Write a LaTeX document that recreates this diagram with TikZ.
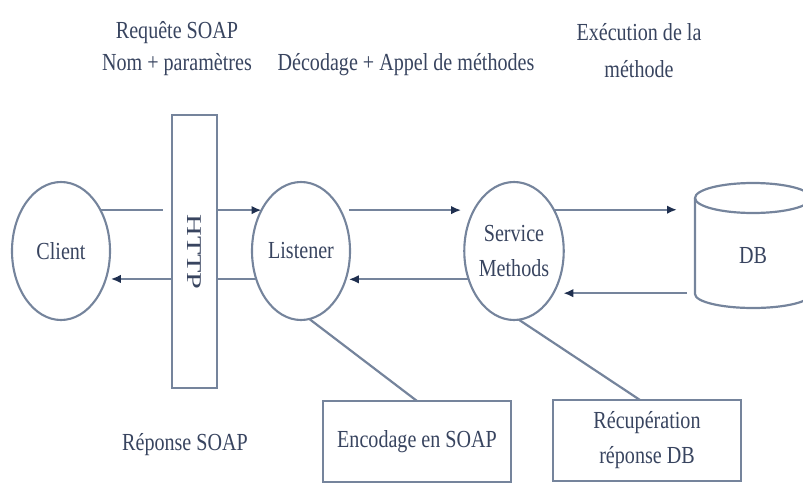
\documentclass[tikz,border=0pt]{standalone}
\usepackage{fontspec}
\setmainfont{Liberation Serif}[FakeStretch=0.82]
\usetikzlibrary{arrows.meta,shapes.geometric}
\definecolor{edgecol}{HTML}{75849C}
\definecolor{headcol}{HTML}{1F2F4F}
\definecolor{txtcol}{HTML}{38445F}

\begin{document}
\begin{tikzpicture}[x=1pt,y=-1pt,
  every node/.style={font=\fontsize{24.5}{35}\selectfont, text=txtcol},
  proc/.style={draw=edgecol, line width=2.1pt, ellipse, minimum width=98pt,
    minimum height=138pt, inner sep=0pt, outer sep=0pt},
  box/.style={draw=edgecol, line width=2.1pt, rectangle, inner sep=0pt, outer sep=0pt},
  link/.style={draw=edgecol, line width=2.2pt},
  flow/.style={link, -{Latex[length=10pt,width=8.5pt,color=headcol]}},
  note/.style={align=center, inner sep=0pt}]

\useasboundingbox (0,0) rectangle (803,484);
\clip (0,0) rectangle (803,484);

% processes
\node[proc] (client) at (61,251) {Client};
\node[box, minimum width=45pt, minimum height=273pt] (http) at (194.5,251.5) {};
\node[rotate=-90, inner sep=0pt, font=\fontsize{21}{24}\selectfont] (httplabel) at (194,252)
  {\scalebox{1.75}[1]{HTTP}};
\node[proc] (listener) at (301,251) {Listener};
\node[proc, align=center] (svc) at (514,251) {\raisebox{-4pt}{Service}\\\raisebox{-4pt}{Methods}};

% database cylinder
\node[inner sep=0pt, outer sep=0pt, minimum width=116pt, minimum height=96pt] (db) at (753,246) {};
\node (dblabel) at ([yshift=-10pt]db.center) {DB};
\draw[link] (db.north west) -- (db.south west)
  arc[start angle=180, end angle=0, x radius=58, y radius=14] -- (db.north east);
\draw[link] (db.north) ellipse [x radius=58, y radius=15];

% activity boxes
\node[box, minimum width=188pt, minimum height=81pt] (enc) at (417,441.5) {Encodage en SOAP};
\node[box, minimum width=188pt, minimum height=81pt, align=center] (recup) at (647,440.5)
  {Récupération\\réponse DB};

% captions
\node[note, font=\fontsize{24.5}{32}\selectfont] (req) at (177,49) {Requête SOAP\\Nom + paramètres};
\node[note] (dec) at (406,65) {Décodage + Appel de méthodes};
\node[note, font=\fontsize{24.5}{37}\selectfont] (exec) at (639,51) {Exécution de la\\méthode};
\node[note] (rep) at (185,445) {Réponse SOAP};

% request path
\draw[link] (client.46) -- ([xshift=-9pt]http.west |- client.46);
\draw[flow] (http.east |- listener.134) -- (listener.134);
\draw[flow, shorten <=9pt, shorten >=13pt] (listener.46) -- (listener.46 -| svc.134);
\draw[flow] (svc.46) -- ([xshift=-18pt]db.west |- svc.46);

% response path
\draw[flow, shorten >=10pt] ([xshift=-8pt]db.west |- svc.-47) -- (svc.-47);
\draw[flow, shorten >=3pt] (svc.212) -- (svc.212 -| listener.-32);
\draw[link] (listener.212) -- (http.east |- listener.212);
\draw[flow, shorten >=5pt] (http.west |- client.-32) -- (client.-32);

% activity links
\draw[link] (listener.-83) -- (enc.north);
\draw[link] (svc.-86) -- ([xshift=-7pt]recup.north);
\end{tikzpicture}
\end{document}
